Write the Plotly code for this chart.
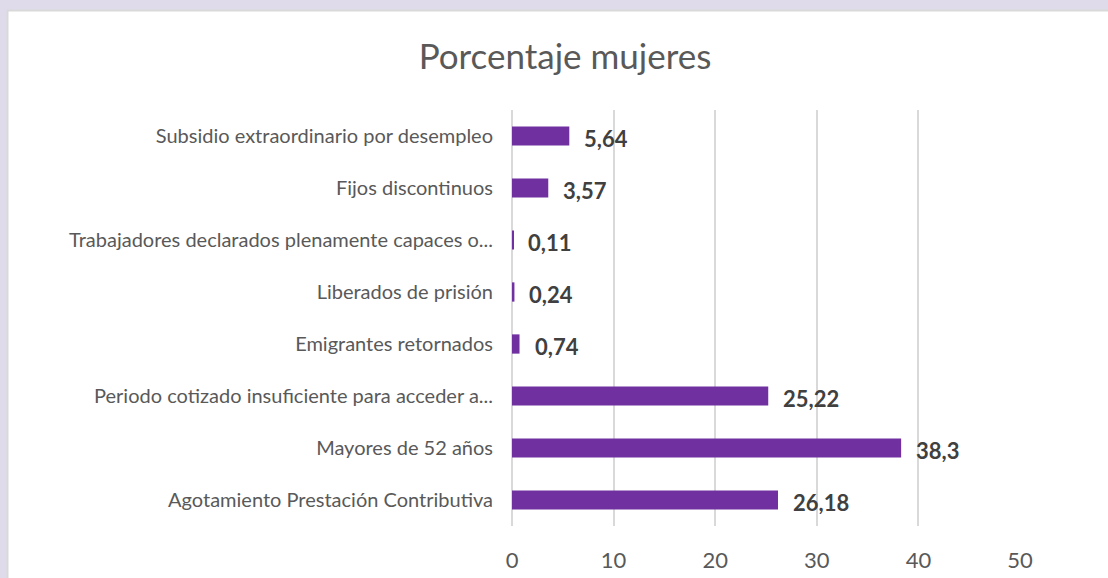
import plotly.graph_objects as go

categories = [
    "Agotamiento Prestación Contributiva",
    "Mayores de 52 años",
    "Periodo cotizado insuficiente para acceder a...",
    "Emigrantes retornados",
    "Liberados de prisión",
    "Trabajadores declarados plenamente capaces o...",
    "Fijos discontinuos",
    "Subsidio extraordinario por desempleo",
]
values = [26.18, 38.3, 25.22, 0.74, 0.24, 0.11, 3.57, 5.64]
x_ticks = [0, 10, 20, 30, 40, 50]
title_text = "Porcentaje mujeres"

labels = [str(v).replace(".", ",") for v in values]

W, H = 1108, 578
L, R, T, B = 512, 88, 110, 52
pw, ph = W - L - R, H - T - B

def px_x(p):
    return (p - L) / pw

def px_y(p):
    return (H - B - p) / ph

fig = go.Figure()
fig.add_trace(go.Bar(
    y=categories, x=values, orientation="h",
    marker=dict(color="#7030A0", line=dict(width=0)),
    width=0.37, hoverinfo="skip",
))

for c, v, t in zip(categories, values, labels):
    fig.add_annotation(
        x=v, y=c, text=t, showarrow=False, xanchor="left", yanchor="middle",
        xshift=13, yshift=-2,
        font=dict(family="Lato", size=22, color="#404040", weight="bold"),
    )

fig.add_shape(
    type="rect", xref="paper", yref="paper",
    x0=px_x(7.5), x1=px_x(1115), y0=px_y(585), y1=px_y(10.5),
    fillcolor="white", line=dict(color="#D9D9D9", width=2), layer="below",
)

fig.update_layout(
    width=W, height=H,
    margin=dict(l=L, r=R, t=T, b=B, autoexpand=False),
    paper_bgcolor="#DFDBEB",
    plot_bgcolor="white",
    showlegend=False,
    title=dict(
        text=title_text, x=565 / W, xref="container", xanchor="center",
        y=1 - 57 / H, yref="container", yanchor="middle",
        font=dict(family="Lato", size=35, color="#595959"),
    ),
    xaxis=dict(
        range=[0, 50], tickvals=x_ticks, showgrid=True, gridcolor="#D9D9D9",
        gridwidth=2, zeroline=True, zerolinecolor="#D9D9D9", zerolinewidth=2,
        showline=False, ticks="", ticklabelstandoff=19, automargin=False,
        tickfont=dict(family="Lato", size=22, color="#595959"),
    ),
    yaxis=dict(
        categoryorder="array", categoryarray=categories, range=[-0.5, 7.5],
        showgrid=False, zeroline=False, showline=False, ticks="",
        ticklabelstandoff=18, automargin=False,
        tickfont=dict(family="Lato", size=20, color="#595959"),
    ),
)

fig.write_html(
    "out.html",
    config={"displayModeBar": False},
    post_script="document.body.style.margin='0';document.body.style.background='#DFDBEB';",
)
